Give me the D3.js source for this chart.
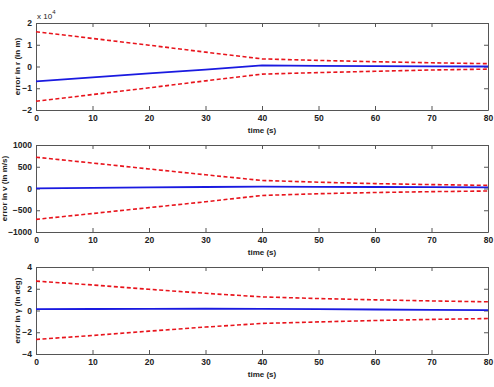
<!DOCTYPE html>
<html>
<head>
<meta charset="utf-8">
<style>
    body { margin: 0; background: white; }
    svg { font-family: "Liberation Sans", Arial, sans-serif; }
    .tick text { font-size: 8.5px; font-weight: bold; fill: #222; }
    .lbl { font-size: 8px; font-weight: bold; fill: #222; }
</style>
</head>
<body>
<svg width="494" height="387"></svg>
<script src="https://d3js.org/d3.v7.min.js"></script>
<script>
    // time samples (s)
    let time = [0, 10, 20, 30, 40, 50, 60, 70, 80]

    // error in r, x 10^4 m
    let rErr = [-0.68, -0.5, -0.32, -0.14, 0.05, 0.03, 0.02, 0.01, 0.0]
    let rUp = [1.6, 1.29, 0.98, 0.66, 0.35, 0.28, 0.22, 0.17, 0.13]
    let rLo = [-1.6, -1.29, -0.98, -0.66, -0.35, -0.28, -0.22, -0.16, -0.12]

    // error in v, m/s
    let vErr = [5, 15, 25, 35, 42, 38, 34, 30, 28]
    let vUp = [720, 585, 450, 315, 185, 145, 112, 90, 72]
    let vLo = [-710, -575, -440, -305, -160, -120, -92, -72, -58]

    // error in gamma, deg
    let gErr = [0.12, 0.14, 0.15, 0.16, 0.15, 0.12, 0.09, 0.06, 0.03]
    let gUp = [2.7, 2.35, 1.95, 1.58, 1.25, 1.1, 0.98, 0.88, 0.8]
    let gLo = [-2.66, -2.3, -1.9, -1.52, -1.19, -1.05, -0.92, -0.82, -0.74]

    let xTicks = [0, 10, 20, 30, 40, 50, 60, 70, 80]

    let panels = [
        { top: 23, bottom: 110, dom: [-2, 2], ticks: [-2, -1, 0, 1, 2], err: rErr, up: rUp, lo: rLo, label: "error in r (in m)", lx: 20 },
        { top: 145, bottom: 232, dom: [-1000, 1000], ticks: [-1000, -500, 0, 500, 1000], err: vErr, up: vUp, lo: vLo, label: "error in v (in m/s)", lx: 7 },
        { top: 267, bottom: 354, dom: [-4, 4], ticks: [-4, -2, 0, 2, 4], err: gErr, up: gUp, lo: gLo, label: "error in \u03b3 (in deg)", lx: 20 }
    ]

    let left = 36, right = 488
    let svg = d3.select("svg")
    let fmt = d3.format("d")

    let x = d3.scaleLinear().domain([0, 80]).range([left, right])

    panels.forEach((p, i) => {
        let y = d3.scaleLinear().domain(p.dom).range([p.bottom, p.top])
        let g = svg.append("g")

        // axes with inward ticks, mirrored on top / right
        g.append("g").attr("transform", `translate(0,${p.bottom})`)
            .call(d3.axisBottom(x).tickValues(xTicks).tickFormat(fmt).tickSizeInner(-4).tickSizeOuter(0).tickPadding(5))
        g.append("g").attr("transform", `translate(0,${p.top})`)
            .call(d3.axisTop(x).tickValues(xTicks).tickSizeInner(-4).tickSizeOuter(0).tickFormat(""))
        g.append("g").attr("transform", `translate(${left},0)`)
            .call(d3.axisLeft(y).tickValues(p.ticks).tickFormat(fmt).tickSizeInner(-4).tickSizeOuter(0).tickPadding(4))
        g.append("g").attr("transform", `translate(${right},0)`)
            .call(d3.axisRight(y).tickValues(p.ticks).tickSizeInner(-4).tickSizeOuter(0).tickFormat(""))

        g.selectAll(".domain").attr("stroke", "#555")
        g.selectAll(".tick line").attr("stroke", "#555")

        let line = d3.line().x((d, j) => x(time[j])).y(d => y(d))

        g.append("path").datum(p.up).attr("d", line)
            .attr("fill", "none").attr("stroke", "#e8141c").attr("stroke-width", 1.6)
            .attr("stroke-dasharray", "4,2.5")
        g.append("path").datum(p.lo).attr("d", line)
            .attr("fill", "none").attr("stroke", "#e8141c").attr("stroke-width", 1.6)
            .attr("stroke-dasharray", "4,2.5")
        g.append("path").datum(p.err).attr("d", line)
            .attr("fill", "none").attr("stroke", "#1a1ae0").attr("stroke-width", 1.8)

        g.append("text").attr("class", "lbl")
            .attr("x", x(40)).attr("y", p.bottom + 23)
            .attr("text-anchor", "middle")
            .text("time (s)")

        g.append("text").attr("class", "lbl")
            .attr("transform", `translate(${p.lx},${(p.top + p.bottom) / 2}) rotate(-90)`)
            .attr("text-anchor", "middle")
            .text(p.label)
    })

    // exponent marker
    let ex = svg.append("text").attr("class", "lbl").attr("x", 37).attr("y", 19)
        .style("font-weight", "normal")
    ex.append("tspan").text("x 10")
    ex.append("tspan").attr("dy", -5).style("font-size", "6px").text("4")
</script>
</body>
</html>
